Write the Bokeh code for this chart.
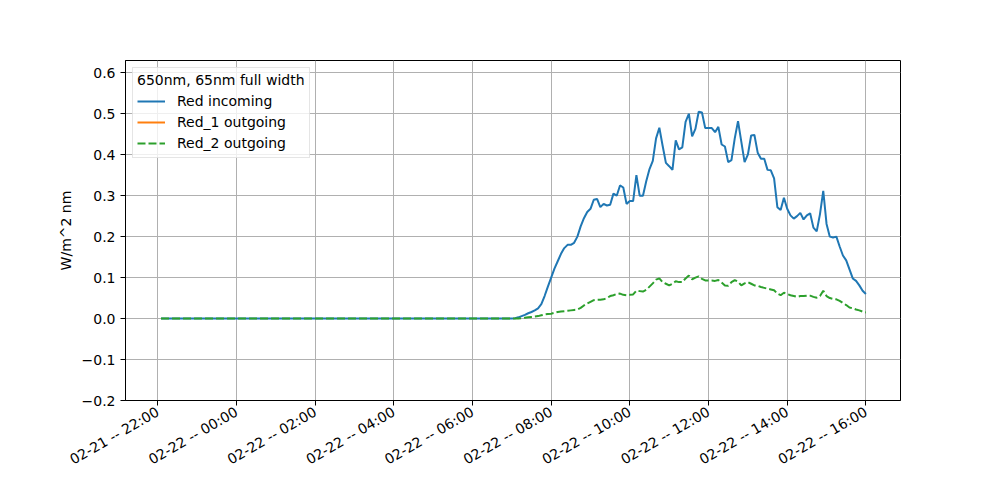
import math
import pandas as pd
from bokeh.plotting import figure
from bokeh.models import Range1d, FixedTicker, DatetimeTickFormatter, Legend, LegendItem
from bokeh.embed import file_html
from bokeh.resources import INLINE

# ---- data -------------------------------------------------------------
night_start = "2024-02-21 22:05"
day_start = "2024-02-22 07:00"
day_end = "2024-02-22 16:00"

red_incoming_day = [
    0.0, 0.001, 0.003, 0.006, 0.009, 0.013, 0.016, 0.02, 0.025, 0.035,
    0.055, 0.078, 0.1, 0.122, 0.14, 0.158, 0.172, 0.18, 0.18, 0.185,
    0.2, 0.225, 0.245, 0.26, 0.268, 0.29, 0.292, 0.272, 0.28, 0.276,
    0.278, 0.305, 0.30, 0.325, 0.32, 0.28, 0.287, 0.287, 0.35, 0.30,
    0.30, 0.335, 0.365, 0.385, 0.44, 0.466, 0.422, 0.38, 0.372, 0.363,
    0.435, 0.413, 0.418, 0.48, 0.50, 0.445, 0.463, 0.505, 0.503, 0.465,
    0.465, 0.465, 0.455, 0.468, 0.425, 0.42, 0.382, 0.387, 0.44, 0.482,
    0.432, 0.382, 0.40, 0.447, 0.448, 0.405, 0.39, 0.39, 0.363, 0.362,
    0.342, 0.272, 0.265, 0.295, 0.268, 0.252, 0.244, 0.25, 0.258, 0.242,
    0.252, 0.257, 0.222, 0.213, 0.255, 0.312, 0.231, 0.2, 0.198, 0.2,
    0.176, 0.154, 0.142, 0.12, 0.098, 0.092, 0.081, 0.068, 0.06,
]

red2_outgoing_day = [
    0.0, 0.0, 0.0, 0.001, 0.002, 0.003, 0.004, 0.005, 0.006, 0.008,
    0.01, 0.011, 0.012, 0.014, 0.016, 0.017, 0.018, 0.019, 0.02, 0.021,
    0.022, 0.026, 0.032, 0.037, 0.041, 0.045, 0.046, 0.046, 0.047, 0.05,
    0.055, 0.057, 0.06, 0.061, 0.058, 0.057, 0.058, 0.059, 0.068, 0.067,
    0.066, 0.07, 0.078, 0.086, 0.095, 0.098, 0.089, 0.085, 0.081, 0.085,
    0.091, 0.089, 0.089, 0.098, 0.105, 0.096, 0.1, 0.103, 0.097, 0.093,
    0.093, 0.093, 0.092, 0.094, 0.088, 0.081, 0.08, 0.089, 0.094, 0.09,
    0.081, 0.086, 0.089, 0.085, 0.081, 0.08, 0.077, 0.075, 0.073, 0.071,
    0.069, 0.061, 0.057, 0.063, 0.06, 0.057, 0.055, 0.053, 0.055, 0.055,
    0.056, 0.056, 0.053, 0.051, 0.055, 0.068, 0.055, 0.05, 0.048, 0.047,
    0.043, 0.038, 0.033, 0.027, 0.025, 0.022, 0.02, 0.017, 0.015,
]
night_value = 0.0          # all readings are zero during the night
red1_missing = float("nan")  # Red_1 outgoing has no plotted readings

y_ticks = [-0.2, -0.1, 0.0, 0.1, 0.2, 0.3, 0.4, 0.5, 0.6]
y_labels = ["\u22120.2", "\u22120.1", "0.0", "0.1", "0.2", "0.3", "0.4", "0.5", "0.6"]
x_tick_times = ["2024-02-21 22:00", "2024-02-22 00:00", "2024-02-22 02:00",
                "2024-02-22 04:00", "2024-02-22 06:00", "2024-02-22 08:00",
                "2024-02-22 10:00", "2024-02-22 12:00", "2024-02-22 14:00",
                "2024-02-22 16:00"]

legend_title = "650nm, 65nm full width"
series_names = ["Red incoming", "Red_1 outgoing", "Red_2 outgoing"]
colors = ["#1f77b4", "#ff7f0e", "#2ca02c"]

# ---- build ------------------------------------------------------------
day_times = list(pd.date_range(day_start, day_end, freq="5min"))
times = [pd.Timestamp(night_start)] + day_times
inc = [night_value] + red_incoming_day
out2 = [night_value] + red2_outgoing_day
out1 = [red1_missing for _ in times]

FONT = "DejaVu Sans"
FS = "14px"

x0 = pd.Timestamp("2024-02-21 22:00") - pd.Timedelta(hours=0.82)
x1 = pd.Timestamp("2024-02-22 16:00") + pd.Timedelta(hours=0.88)

p = figure(width=984, height=484, x_axis_type="datetime",
           x_range=Range1d(x0, x1), y_range=Range1d(-0.2, 0.63),
           output_backend="svg", toolbar_location=None,
           min_border_left=125, min_border_right=84,
           min_border_top=60, min_border_bottom=84)
p.background_fill_color = "white"
p.border_fill_color = "white"
p.outline_line_color = "black"
p.outline_line_width = 1

r_inc = p.line(times, inc, line_color=colors[0], line_width=2)
r_out1 = p.line(times, out1, line_color=colors[1], line_width=2)
r_out2 = p.line(times, out2, line_color=colors[2], line_width=2, line_dash="8 3")

# axes
xt_ms = [pd.Timestamp(t).value // 10**6 for t in x_tick_times]
p.xaxis.ticker = FixedTicker(ticks=xt_ms)
fmt = "%m-%d -- %H:%M"
p.xaxis.formatter = DatetimeTickFormatter(milliseconds=fmt, seconds=fmt, minsec=fmt,
                                          minutes=fmt, hourmin=fmt, hours=fmt,
                                          days=fmt, months=fmt, years=fmt)
p.xaxis.major_label_orientation = math.pi / 6
p.yaxis.ticker = FixedTicker(ticks=y_ticks)
p.yaxis.major_label_overrides = {t: l for t, l in zip(y_ticks, y_labels)}
p.yaxis.axis_label = "W/m^2 nm"

for ax in (p.xaxis, p.yaxis):
    ax.axis_line_color = "black"
    ax.major_tick_line_color = "black"
    ax.major_tick_out = 5
    ax.major_tick_in = 0
    ax.minor_tick_line_color = None
    ax.major_label_text_font = FONT
    ax.major_label_text_font_size = FS
    ax.major_label_text_color = "black"
    ax.axis_label_text_font = FONT
    ax.axis_label_text_font_size = FS
    ax.axis_label_text_font_style = "normal"
    ax.axis_label_text_color = "black"
    ax.major_label_standoff = 5

for g in (p.xgrid, p.ygrid):
    g.grid_line_color = "#b0b0b0"
    g.grid_line_width = 1

legend = Legend(items=[LegendItem(label=series_names[0], renderers=[r_inc]),
                       LegendItem(label=series_names[1], renderers=[r_out1]),
                       LegendItem(label=series_names[2], renderers=[r_out2])],
                location="top_left")
legend.title = legend_title
legend.title_text_font = FONT
legend.title_text_font_size = FS
legend.title_text_font_style = "normal"
legend.title_text_color = "black"
legend.title_standoff = 3
legend.label_text_font = FONT
legend.label_text_font_size = FS
legend.label_text_color = "black"
legend.glyph_width = 28
legend.glyph_height = 20
legend.label_height = 20
legend.label_standoff = 12
legend.spacing = 1
legend.padding = 4
legend.margin = 7
legend.border_line_color = "#cccccc"
legend.background_fill_alpha = 0.8
p.add_layout(legend)

open("out.html", "w").write(file_html(p, INLINE))
